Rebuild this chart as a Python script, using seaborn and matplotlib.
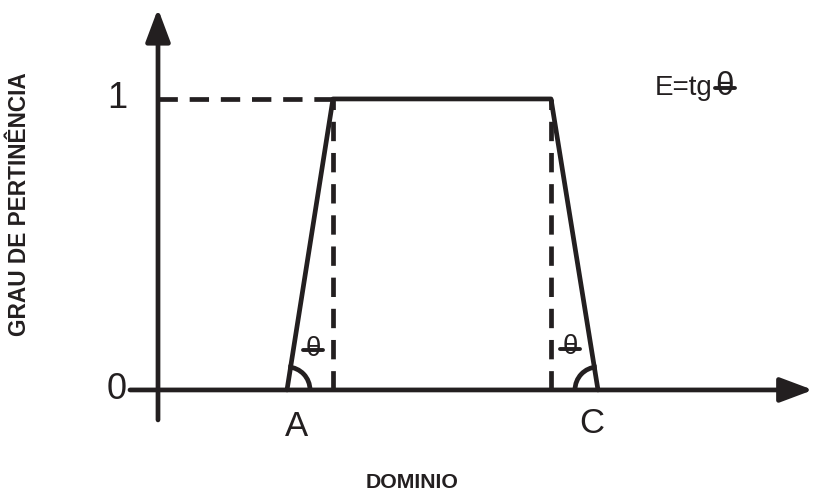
import numpy as np
import pandas as pd
import matplotlib
matplotlib.use('Agg')
import matplotlib.pyplot as plt
from matplotlib.patches import Arc
import seaborn as sns

sns.set_theme(style='white')
plt.rcParams['font.family'] = ['Liberation Sans', 'DejaVu Sans']

# trapezoid membership function (x in arbitrary domain units)
x_pts = [1.29, 1.75, 3.93, 4.40]
y_pts = [0, 1, 1, 0]
point_labels = ['A', '', '', 'C']
y_ticks = [0, 1]

ink = '#231f20'
lw = 3.4

df = pd.DataFrame({'x': x_pts, 'y': y_pts})

fig = plt.figure(figsize=(8.13, 4.95), dpi=100)
ax = fig.add_axes([0, 0, 1, 1])
ax.set_xlim(-1.58, 6.55)
ax.set_ylim(-0.361, 1.340)
ax.axis('off')

# axes with arrows
arr = dict(arrowstyle='-|>,head_length=2.0,head_width=0.75', color=ink, lw=lw,
           mutation_scale=10, shrinkA=0, shrinkB=0)
ax.annotate('', xy=(0, 1.31), xytext=(0, -0.103), arrowprops=arr)
ax.annotate('', xy=(6.55, 0), xytext=(-0.28, 0), arrowprops=arr)

# trapezoid
sns.lineplot(data=df, x='x', y='y', sort=False, color=ink, lw=lw, ax=ax)

# dashed guides
dash = dict(color=ink, lw=lw, dashes=(4.1, 2.5))
ax.plot([0, x_pts[1]], [1, 1], **dash)
ax.plot([x_pts[1], x_pts[1]], [0, 1], **dash)
ax.plot([x_pts[2], x_pts[2]], [0, 1], **dash)

# tick labels
for v in y_ticks:
    ax.text(-0.41, v, str(v), fontsize=26, ha='center', va='center', color=ink)

# point labels
ax.text(x_pts[0] + 0.09, -0.125, point_labels[0], fontsize=25, ha='center', va='center', color=ink)
ax.text(x_pts[3] - 0.06, -0.115, point_labels[3], fontsize=25, ha='center', va='center', color=ink)

# angle arcs
r_px = 23
w = 2 * r_px / 100
h = 2 * r_px / 291
ang = np.degrees(np.arctan2((y_pts[1] - y_pts[0]) * 291, (x_pts[1] - x_pts[0]) * 100))
ax.add_patch(Arc((x_pts[0], 0), w, h, theta1=0, theta2=ang, color=ink, lw=lw))
ang2 = np.degrees(np.arctan2((y_pts[2] - y_pts[3]) * 291, (x_pts[2] - x_pts[3]) * 100))
ax.add_patch(Arc((x_pts[3], 0), w, h, theta1=ang2, theta2=180, color=ink, lw=lw))

# theta labels with bar
for tx, ty, fs in [(1.55, 0.137, 20), (4.12, 0.141, 20), (5.665, 1.038, 24)]:
    ax.text(tx, ty + 0.005, 'θ', fontsize=fs, ha='center', va='center', color=ink)
    ax.plot([tx - 0.1, tx + 0.1], [ty, ty], color=ink, lw=2.8)

ax.text(4.97, 1.038, 'E=tg', fontsize=20, ha='left', va='center', color=ink)

# axis titles
fig.text(20 / 813, 1 - 204 / 495, 'GRAU DE PERTINÊNCIA', rotation=90, fontsize=16.3,
         fontweight='bold', ha='center', va='center', color=ink)
fig.text(412 / 813, 1 - 483 / 495, 'DOMINIO', fontsize=15.3, fontweight='bold',
         ha='center', va='center', color=ink)

fig.savefig('out.png', dpi=100)
